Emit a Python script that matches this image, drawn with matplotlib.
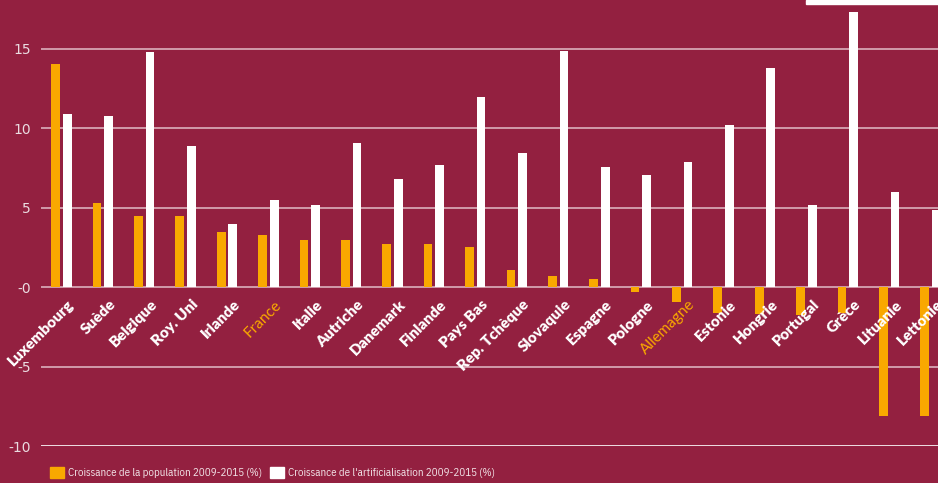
import numpy as np
import matplotlib.pyplot as plt
from matplotlib.patches import Rectangle, Patch

# Data
pays = ['Luxembourg', 'Suède', 'Belgique', 'Roy. Uni', 'Irlande', 'France',
        'Italie', 'Autriche', 'Danemark', 'Finlande', 'Pays Bas',
        'Rep. Tchèque', 'Slovaquie', 'Espagne', 'Pologne', 'Allemagne',
        'Estonie', 'Hongrie', 'Portugal', 'Grèce', 'Lituanie', 'Lettonie']
population = [14.05, 5.3, 4.5, 4.5, 3.5, 3.3, 3.0, 3.0, 2.7, 2.7, 2.5,
              1.07, 0.7, 0.5, -0.3, -0.95, -1.6, -1.7, -1.75, -1.6, -8.1, -8.1]
artificialisation = [10.9, 10.8, 14.8, 8.9, 4.0, 5.5, 5.2, 9.1, 6.8, 7.7, 12.0,
                     8.45, 14.9, 7.55, 7.05, 7.9, 10.2, 13.8, 5.2, 17.3, 6.0, 4.85]
pays_en_couleur = ['France', 'Allemagne']
yticks = [-10, -5, 0, 5, 10, 15]
ytick_labels = ['-10', '-5', '-0', '5', '10', '15']
legende = ['Croissance de la population 2009-2015 (%)',
           "Croissance de l'artificialisation 2009-2015 (%)"]

fond = '#932040'
orange = '#F9A800'
police_legende = ['IBM Plex Sans Condensed', 'DejaVu Sans']

fig = plt.figure(figsize=(9.38, 4.83), dpi=100)
fig.patch.set_facecolor(fond)

W, H = 938, 483
ax = fig.add_axes([41 / W, (H - 446) / H, (W - 41) / W, 446 / H])
ax.set_facecolor(fond)

x = np.arange(len(pays))
width = 0.21
ax.bar(x - 0.14, population, width, color=orange, zorder=3)
ax.bar(x + 0.14, artificialisation, width, color='white', zorder=3)

ax.set_xlim(-0.495, 21.18)
ax.set_ylim(-10, 18.08)
ax.set_yticks(yticks)
ax.set_yticklabels(ytick_labels, color='#eadbe0', fontsize=10)
ax.tick_params(axis='y', length=0, pad=7.5)
ax.set_xticks([])
for s in ax.spines.values():
    s.set_visible(False)

for yv in yticks:
    ax.axhline(yv, color='white' if yv == -10 else '#dcb0bc',
               lw=1.2, zorder=1)

# Country labels, rotated below the zero line
for i, nom in enumerate(pays):
    if nom in pays_en_couleur:
        ax.text(i + 0.14, -0.65, nom, rotation=45, ha='right', va='top',
                rotation_mode='anchor', color=orange, fontsize=11,
                family='Lato', zorder=5)
    else:
        ax.text(i + 0.14, -0.65, nom, rotation=45, ha='right', va='top',
                rotation_mode='anchor', color='white', fontsize=11,
                family='Lato', fontweight='heavy', zorder=5)

# two legend entries, placed separately like in the reference
for xpix, couleur, texte in [(50, orange, legende[0]), (270, 'white', legende[1])]:
    leg = fig.legend(handles=[Patch(color=couleur, label=texte)],
                     loc='lower left', bbox_to_anchor=(xpix / W, 5 / H),
                     frameon=False, borderpad=0, borderaxespad=0,
                     handlelength=1.25, handleheight=1.15, handletextpad=0.45,
                     prop={'family': police_legende, 'size': 7.8})
    for t in leg.get_texts():
        t.set_color('#f3e6ea')

# white strip in the upper right corner
fig.patches.append(Rectangle((806 / W, 1 - 4 / H), 132 / W, 4 / H,
                             transform=fig.transFigure, color='white',
                             zorder=10))

fig.savefig('out.png', dpi=100, facecolor=fond)
